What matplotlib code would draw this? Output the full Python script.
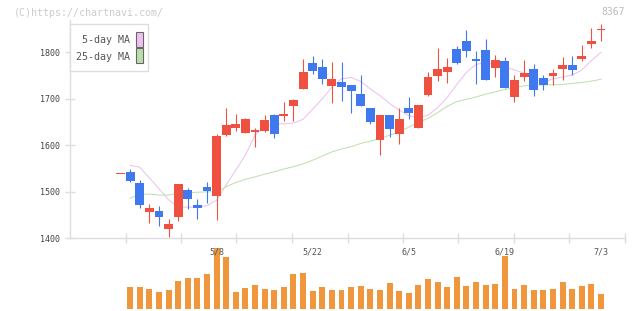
import numpy as np
import matplotlib.pyplot as plt
from matplotlib.patches import Rectangle

code = "8367"

# daily OHLC, oldest first (one candle per trading day)
opens = [1538, 1543, 1520, 1457, 1459, 1421, 1446, 1504, 1472, 1511,
         1490, 1623, 1637, 1627, 1628, 1631, 1665, 1663, 1685, 1722,
         1777, 1768, 1728, 1736, 1730, 1710, 1680, 1612, 1665, 1625,
         1680, 1638, 1709, 1750, 1758, 1807, 1824, 1786, 1805, 1766,
         1781, 1704, 1747, 1764, 1745, 1749, 1764, 1773, 1786, 1818,
         1849]
highs = [1538, 1549, 1525, 1474, 1470, 1441, 1517, 1509, 1485, 1521,
         1624, 1680, 1667, 1658, 1637, 1665, 1668, 1693, 1700, 1786,
         1792, 1786, 1779, 1779, 1730, 1751, 1680, 1665, 1665, 1680,
         1704, 1687, 1758, 1809, 1788, 1814, 1848, 1803, 1829, 1794,
         1790, 1751, 1783, 1775, 1751, 1764, 1790, 1792, 1816, 1852,
         1861]
lows = [1538, 1522, 1466, 1433, 1426, 1403, 1438, 1464, 1441, 1475,
        1439, 1620, 1630, 1626, 1597, 1629, 1616, 1653, 1653, 1722,
        1754, 1732, 1692, 1696, 1670, 1685, 1646, 1580, 1618, 1603,
        1657, 1638, 1706, 1739, 1735, 1775, 1790, 1732, 1740, 1747,
        1723, 1693, 1738, 1706, 1719, 1730, 1740, 1751, 1781, 1809,
        1824]
closes = [1538, 1524, 1472, 1465, 1446, 1431, 1517, 1485, 1466, 1502,
          1620, 1644, 1646, 1657, 1633, 1654, 1625, 1667, 1697, 1758,
          1760, 1743, 1743, 1726, 1717, 1685, 1651, 1665, 1636, 1657,
          1670, 1687, 1747, 1764, 1768, 1777, 1803, 1781, 1740, 1783,
          1723, 1740, 1755, 1719, 1730, 1755, 1773, 1762, 1792, 1824,
          1850]
# volume (thousand shares)
volumes = [0, 88, 88, 80, 68, 76, 112, 124, 124, 140,
           245, 208, 68, 84, 96, 80, 76, 88, 140, 144,
           72, 88, 76, 76, 88, 92, 80, 76, 104, 72,
           64, 96, 120, 108, 88, 128, 92, 108, 96, 100,
           212, 80, 96, 76, 76, 80, 108, 80, 92, 100,
           60]
ma5 = [np.nan, 1557, 1553, 1530, 1507, 1483, 1467, 1467, 1467, 1470,
       1482, 1515, 1547, 1579, 1622, 1641, 1646, 1646, 1648, 1656,
       1678, 1700, 1725, 1743, 1746, 1737, 1721, 1707, 1690, 1676,
       1664, 1659, 1665, 1681, 1703, 1731, 1757, 1774, 1778, 1774,
       1769, 1762, 1755, 1743, 1735, 1743, 1747, 1751, 1762, 1782,
       1800]
ma25 = [np.nan, 1486, 1495, 1495, 1493, 1493, 1497, 1498, 1499, 1500,
        1500, 1511, 1520, 1527, 1532, 1538, 1543, 1549, 1554, 1560,
        1568, 1577, 1586, 1592, 1597, 1604, 1609, 1614, 1622, 1629,
        1639, 1649, 1658, 1670, 1684, 1694, 1699, 1704, 1710, 1715,
        1720, 1724, 1728, 1729, 1730, 1730, 1731, 1733, 1735, 1738,
        1742]
date_pos = [10, 20, 30, 40, 50]
date_labels = ['5/8', '5/22', '6/5', '6/19', '7/3']
price_ticks = [1400, 1500, 1600, 1700, 1800]

W, H = 640, 311
UP = '#F05040'
DOWN = '#4078F0'
GRID = '#DDDDDD'
MONO = 'DejaVu Sans Mono'


def box(l, t, r, b):
    return [l / W, 1 - b / H, (r - l) / W, (b - t) / H]


fig = plt.figure(figsize=(W / 100, H / 100), dpi=100)
ax = fig.add_axes(box(70, 20, 625, 238.3))
axv = fig.add_axes(box(70, 240, 625, 309))

xs = np.arange(len(closes))
xmin, xmax = -5.255, 52.5

# price panel
ax.plot(xs, ma5, color='#EBC3EF', lw=0.75, zorder=1)
ax.plot(xs, ma25, color='#BFE0B0', lw=0.75, zorder=1)
for i in range(len(closes)):
    o, h, l, c = opens[i], highs[i], lows[i], closes[i]
    col = UP if c >= o else DOWN
    if h > l:
        ax.vlines(i, l, h, color=col, lw=0.8, zorder=2)
    ax.bar(i, max(abs(c - o), 2), bottom=min(o, c), width=0.92,
           color=col, lw=0, zorder=3)

ax.set_xlim(xmin, xmax)
ax.set_ylim(1400, 1400 + 218.3 / 0.465)
for s in ['top', 'right']:
    ax.spines[s].set_visible(False)
for s in ['left', 'bottom']:
    ax.spines[s].set_color(GRID)
    ax.spines[s].set_linewidth(1.0)
ax.set_yticks(price_ticks)
ax.set_yticklabels([str(p) for p in price_ticks], fontsize=6,
                   family=MONO, color='#444444')
ax.set_xticks(np.linspace(xmin, xmax, 11)[1:])
ax.set_xticklabels([])
ax.tick_params(axis='both', direction='inout', length=6.5, width=1.0,
               color=GRID)
ax.tick_params(axis='y', pad=4)
ax.patch.set_alpha(0)

# volume panel
axv.bar(xs, volumes, width=0.62, color='#F0963C', lw=0)
axv.set_xlim(xmin, xmax)
axv.set_ylim(0, 276)
axv.axis('off')
for p, lab in zip(date_pos, date_labels):
    axv.text(p, 0.826, lab, transform=axv.get_xaxis_transform(),
             ha='center', va='center', fontsize=6, family=MONO,
             color='#555555', zorder=5)

# header texts
fig.text(14 / W, 1 - 12.5 / H, '(C)https://chartnavi.com/', ha='left',
         va='center', fontsize=7.2, family=MONO, color='#CCCCCC')
fig.text(625 / W, 1 - 11.7 / H, code, ha='right', va='center',
         fontsize=7, family=MONO, color='#BBBBBB')

# legend box
fig.add_artist(Rectangle((70 / W, 1 - 71 / H), 78 / W, 47 / H,
                         transform=fig.transFigure, fc='white', ec=GRID,
                         lw=1.0))
legend_items = [('5-day MA', '#F0C0F0', 40, 46.7),
                ('25-day MA', '#BBDDAA', 56.5, 63.3)]
for name, fc, ty, sb in legend_items:
    fig.text(130 / W, 1 - ty / H, name, ha='right', va='center',
             fontsize=7.2, family=MONO, color='#555555')
    fig.add_artist(Rectangle((136 / W, 1 - sb / H), 6.5 / W, 15 / H,
                             transform=fig.transFigure, fc=fc, ec='#666666',
                             lw=0.8))

fig.savefig('out.png', dpi=100)
